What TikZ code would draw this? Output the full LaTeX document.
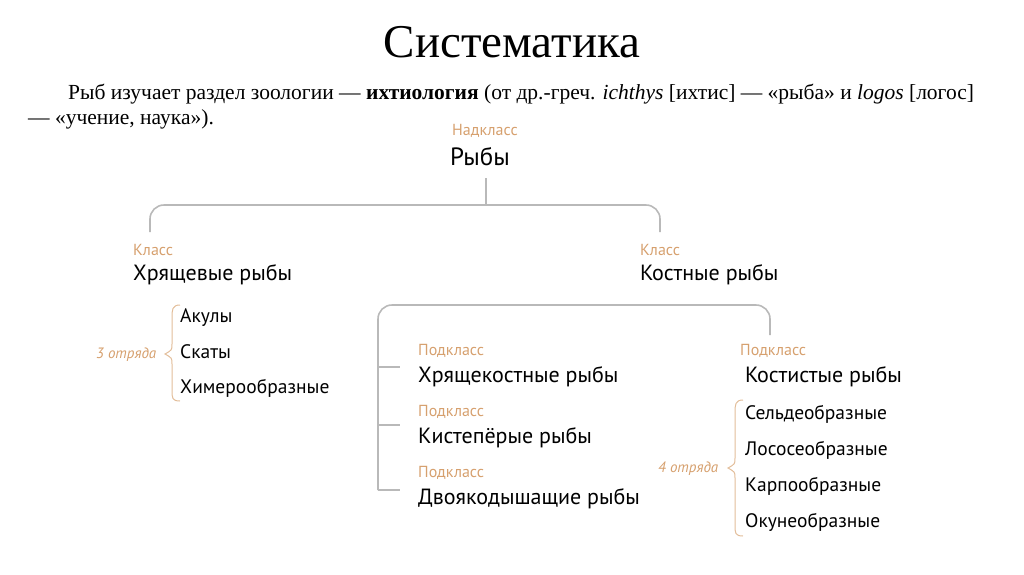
\documentclass[tikz,border=0pt]{standalone}
\usepackage{fontspec}
\setmainfont{Liberation Serif}
\newfontfamily\dsans{PT Sans}
\definecolor{lab}{RGB}{214,160,110}
\definecolor{ln}{RGB}{185,185,185}
\begin{document}
\begin{tikzpicture}[x=1pt,y=-1pt,
  capt/.style={font=\dsans\fontsize{16}{18}\selectfont,text=lab,anchor=base west,inner sep=0},
  ord/.style={font=\dsans\fontsize{15}{17}\selectfont\itshape,text=lab,anchor=base west,inner sep=0},
  nm/.style={font=\dsans\fontsize{22}{24}\selectfont,anchor=base west,inner sep=0},
  it/.style={font=\dsans\fontsize{19.5}{22}\selectfont,anchor=base west,inner sep=0},
  tl/.style={draw=ln,line width=1.6pt,rounded corners=14pt},
  br/.style={draw=lab!70,line width=1pt}]
\useasboundingbox (0,0) rectangle (1024,574);
\node[font=\fontsize{47}{50}\selectfont,inner sep=0] (title) at (512,42) {Систематика};
\node[anchor=base west,inner sep=0,font=\fontsize{21.5}{24}\selectfont] (p1) at (68,99) {Рыб изучает раздел зоологии — \textbf{ихтиология} (от др.-греч. \textit{ichthys} [ихтис] — «рыба» и \textit{logos} [логос]};
\node[anchor=base west,inner sep=0,font=\fontsize{21.5}{24}\selectfont] (p2) at (28,124) {— «учение, наука»).};
\node[capt] (c0) at (452,135) {Надкласс};
\node[nm,font=\dsans\fontsize{25}{27}\selectfont] (n0) at (450,165) {Рыбы};
\node[capt] (c1) at (133,255) {Класс};
\node[nm] (n1) at (133,280) {Хрящевые рыбы};
\node[capt] (c2) at (640,255) {Класс};
\node[nm] (n2) at (640,280) {Костные рыбы};
\node[it] (a1) at (180,322) {Акулы};
\node[it] (a2) at (180,358) {Скаты};
\node[it] (a3) at (180,393) {Химерообразные};
\node[ord] (o3) at (96,358) {3 отряда};
\node[capt] (c3) at (418,355) {Подкласс};
\node[nm] (n3) at (418,382) {Хрящекостные рыбы};
\node[capt] (c4) at (418,416) {Подкласс};
\node[nm] (n4) at (418,443) {Кистепёрые рыбы};
\node[capt] (c5) at (418,477) {Подкласс};
\node[nm] (n5) at (418,504) {Двоякодышащие рыбы};
\node[capt] (c6) at (740,355) {Подкласс};
\node[nm] (n6) at (745,382) {Костистые рыбы};
\node[it] (b1) at (745,419) {Сельдеобразные};
\node[it] (b2) at (745,455) {Лососеобразные};
\node[it] (b3) at (745,491) {Карпообразные};
\node[it] (b4) at (745,527) {Окунеобразные};
\node[ord] (o4) at (658,472) {4 отряда};
% tree lines
\coordinate (t0) at (486,178);
\draw[tl] (t0) -- (486,205);
\draw[tl] (150,232) -- (150,205) -- (660,205) -- (660,232);
\draw[tl] (378,490) -- (378,305) -- (770,305) -- (770,335);
\draw[draw=ln,line width=1.6pt] (378,367) -- (400,367) (378,425) -- (400,425) (378,490) -- (400,490);
% braces
\draw[br] (180,305) .. controls (172,305) and (172,310) .. (172,318) -- (172,344) .. controls (172,350) .. (165,354) .. controls (172,358) .. (172,364) -- (172,390) .. controls (172,398) and (172,401) .. (180,401);
\draw[br] (743,400) .. controls (735,400) and (735,405) .. (735,413) -- (735,458) .. controls (735,464) .. (728,468) .. controls (735,472) .. (735,478) -- (735,525) .. controls (735,533) and (735,536) .. (743,536);
\end{tikzpicture}
\end{document}
